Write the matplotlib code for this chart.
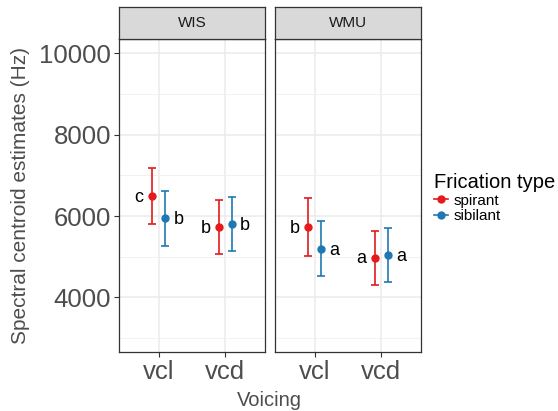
import matplotlib.pyplot as plt
from matplotlib.lines import Line2D

plt.rcParams['font.family'] = ['Liberation Sans', 'DejaVu Sans']

sites = ["WIS", "WMU"]
voicing = ["vcl", "vcd"]
frication = ["spirant", "sibilant"]

# means and 95% CI limits, per site -> [vcl, vcd]
spirant_mean = {"WIS": [6497, 5728], "WMU": [5736, 4982]}
spirant_lo = {"WIS": [5802, 5056], "WMU": [5024, 4312]}
spirant_hi = {"WIS": [7175, 6400], "WMU": [6440, 5645]}
sibilant_mean = {"WIS": [5949, 5800], "WMU": [5196, 5048]}
sibilant_lo = {"WIS": [5270, 5130], "WMU": [4516, 4378]}
sibilant_hi = {"WIS": [6619, 6472], "WMU": [5876, 5718]}

spirant_letters = {"WIS": ["c", "b"], "WMU": ["b", "a"]}
sibilant_letters = {"WIS": ["b", "b"], "WMU": ["a", "a"]}

colors = {"spirant": "#E41A1C", "sibilant": "#1F78B4"}
dodge = 0.1

fig = plt.figure(figsize=(5.58, 4.11), dpi=100)

lefts = [119 / 558, 275 / 558]
pw = 146 / 558
pb = 1 - 352 / 411
ph = (352 - 39) / 411
sh = 32 / 411

for i, site in enumerate(sites):
    ax = fig.add_axes([lefts[i], pb, pw, ph])
    ax.set_facecolor('white')
    ax.set_xlim(0.4, 2.6)
    ax.set_ylim(2660, 10351)
    ax.set_yticks([4000, 6000, 8000, 10000])
    ax.set_yticks([3000, 5000, 7000, 9000], minor=True)
    ax.set_xticks([1, 2])
    ax.set_xticklabels(voicing)
    ax.grid(which='major', color='#EBEBEB', linewidth=1.1)
    ax.grid(which='minor', axis='y', color='#F2F2F2', linewidth=0.7)
    ax.set_axisbelow(True)
    for s in ax.spines.values():
        s.set_color('#333333')
        s.set_linewidth(0.9)
    ax.tick_params(axis='both', which='major', length=3.5, width=0.8,
                   color='#333333', labelcolor='#4D4D4D', labelsize=18.5, pad=2)
    ax.tick_params(axis='y', which='minor', length=0)
    if i > 0:
        # inner facet: no y axis
        ax.tick_params(axis='y', labelleft=False, length=0)
    else:
        ax.set_ylabel('Spectral centroid estimates (Hz)', fontsize=15,
                      color='#4D4D4D', labelpad=7)

    xs = [1, 2]
    for kind, mean, lo, hi, letters, sign in [
        ("spirant", spirant_mean, spirant_lo, spirant_hi, spirant_letters, -1),
        ("sibilant", sibilant_mean, sibilant_lo, sibilant_hi, sibilant_letters, 1),
    ]:
        px = [x + sign * dodge for x in xs]
        m = mean[site]
        yerr = [[m[j] - lo[site][j] for j in range(2)],
                [hi[site][j] - m[j] for j in range(2)]]
        ax.errorbar(px, m, yerr=yerr, fmt='o', color=colors[kind],
                    markersize=5, elinewidth=1.2, capsize=3.2, capthick=1.2)
        for j in range(2):
            ax.annotate(letters[site][j], (px[j], m[j]),
                        xytext=(sign * 9.5, -1), textcoords='offset points',
                        ha='center', va='center', fontsize=13, color='black')

    sax = fig.add_axes([lefts[i], pb + ph, pw, sh])
    sax.set_facecolor('#D9D9D9')
    sax.set_xticks([])
    sax.set_yticks([])
    for s in sax.spines.values():
        s.set_color('#333333')
        s.set_linewidth(0.9)
    sax.text(0.5, 0.5, site, ha='center', va='center', fontsize=11,
             color='#1A1A1A', transform=sax.transAxes)

fig.text((119 + 420) / 2 / 558, 1 - 400 / 411, 'Voicing', ha='center',
         va='center', fontsize=14.5, color='#4D4D4D')

handles = [Line2D([0], [0], color=colors[k], marker='o', markersize=5,
                  linewidth=1.2) for k in frication]
leg = fig.legend(handles, frication, title='Frication type',
                 loc='upper left', bbox_to_anchor=(434 / 558, 1 - 173 / 411),
                 frameon=False, fontsize=11, title_fontsize=14.5,
                 handlelength=0.9, handletextpad=0.35, labelspacing=0.1,
                 borderpad=0, borderaxespad=0, alignment='left')

fig.savefig('out.png', dpi=100)
